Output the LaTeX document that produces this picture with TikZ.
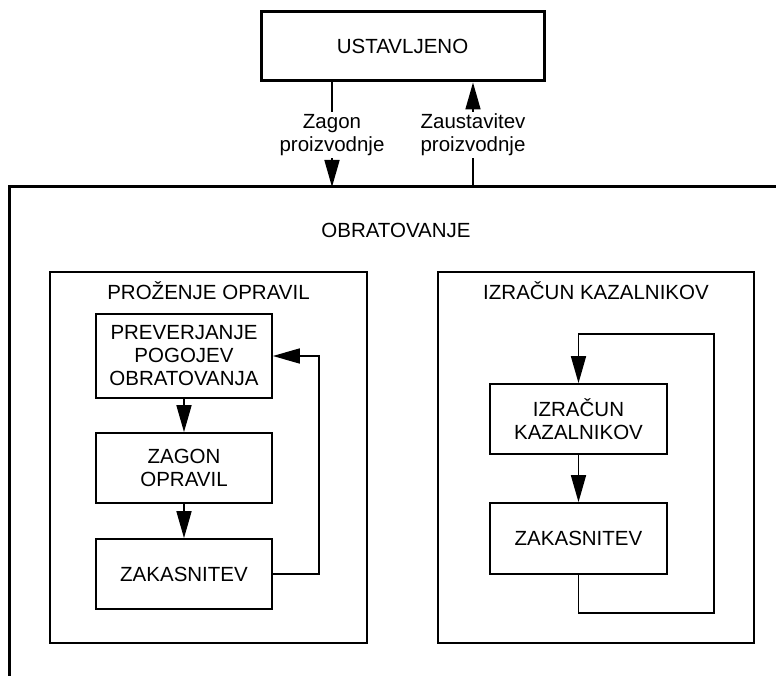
\documentclass[tikz,border=0pt]{standalone}
\usepackage{fontspec}
\setmainfont{Liberation Sans}
\usetikzlibrary{arrows.meta}
\begin{document}
\begin{tikzpicture}[x=1pt,y=-1pt,
  every node/.style={font=\fontsize{20.5}{23}\selectfont, align=center},
  box/.style={draw, line width=1.7pt, inner sep=0pt},
  thickbox/.style={draw, line width=3pt, inner sep=0pt},
  conn/.style={line width=1.7pt},
  arr/.style={conn, -{Triangle[length=27pt 0 0,width=15pt 0 0]}},
  lbl/.style={fill=white, inner sep=2pt}]
\useasboundingbox (0,0) rectangle (776,676);
% top state
\node[thickbox, minimum width=283pt, minimum height=69pt] (ust) at (402.5,46.5) {USTAVLJENO};
% big frame (cut off)
\coordinate (fR) at (780,187);
\coordinate (fTL) at (9,187);
\coordinate (fB) at (9,680);
\draw[line width=3pt] (fR) -- (fTL) -- (fB);
\node (obr) at (396,230) {OBRATOVANJE};
\coordinate (zin) at (332,187);
\coordinate (zout) at (473,187);
\draw[arr] (ust.south -| zin) -- (zin);
\node[lbl] (lz) at (332,135) {Zagon\\proizvodnje};
\draw[arr] (zout) -- (ust.south -| zout);
\node[lbl] (lzs) at (473,135) {Zaustavitev\\proizvodnje};
% sub-boxes
\node[box, minimum width=317pt, minimum height=371pt] (proz) at (208.5,457.5) {};
\node[anchor=center] (prozl) at (208.5,291) {PROŽENJE OPRAVIL};
\node[box, minimum width=316pt, minimum height=371pt] (izr) at (596,457.5) {};
\node[anchor=center] (izrl) at (596,291) {IZRAČUN KAZALNIKOV};
% left chain
\node[box, minimum width=176pt, minimum height=84pt] (prev) at (184,356) {PREVERJANJE\\POGOJEV\\OBRATOVANJA};
\node[box, minimum width=176pt, minimum height=70pt] (zag) at (184,468) {ZAGON\\OPRAVIL};
\node[box, minimum width=176pt, minimum height=70pt] (zak) at (184,574) {ZAKASNITEV};
\draw[arr] (prev) -- (zag);
\draw[arr] (zag) -- (zak);
\coordinate (l1) at (319,574);
\coordinate (l2) at (319,356);
\draw[arr] (zak.east) -- (l1) -- (l2) -- (prev.east);
% right chain
\node[box, minimum width=177pt, minimum height=70pt] (izk) at (578.5,419) {IZRAČUN\\KAZALNIKOV};
\node[box, minimum width=177pt, minimum height=71pt] (zak2) at (578.5,538.5) {ZAKASNITEV};
\draw[arr] (izk) -- (zak2);
\coordinate (r1) at (578.5,613);
\coordinate (r2) at (714,613);
\coordinate (r3) at (714,334);
\coordinate (r4) at (578.5,334);
\draw[arr] (zak2.south) -- (r1) -- (r2) -- (r3) -- (r4) -- (izk.north);
\end{tikzpicture}
\end{document}
